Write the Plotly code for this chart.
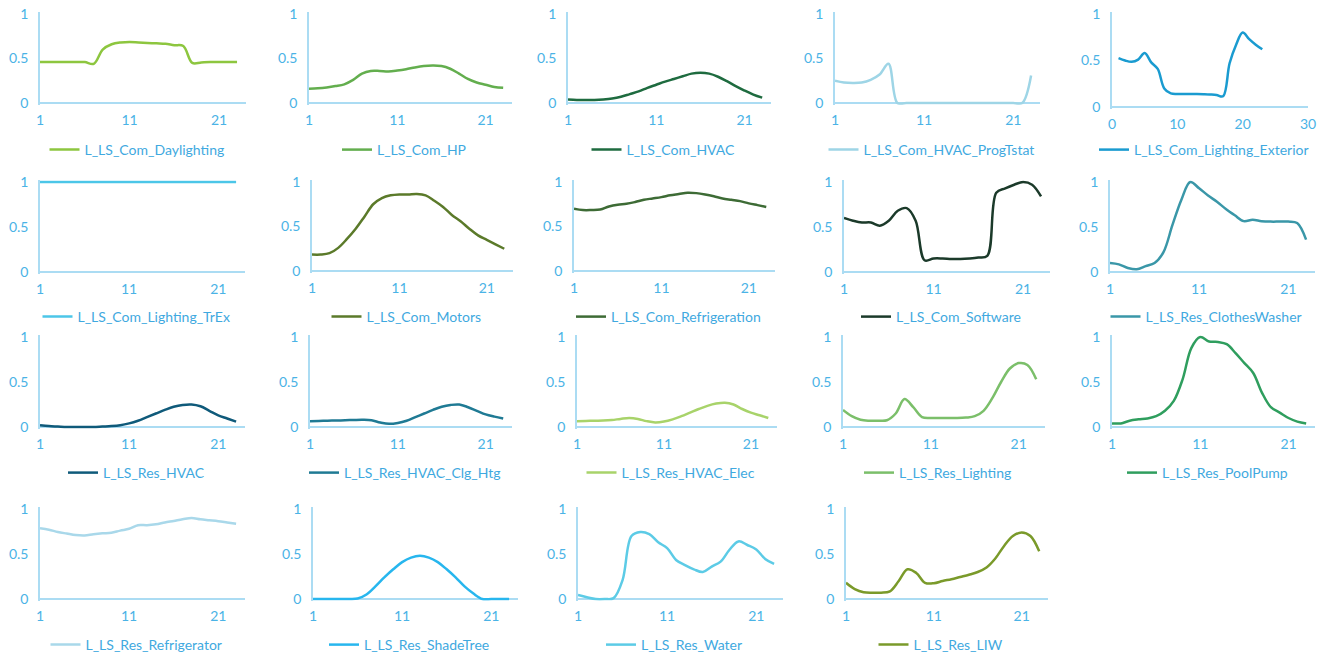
import plotly.graph_objects as go

# ---------------- data ----------------
hours = list(range(1, 24))
x_tick_vals = [1, 11, 21]
x_tick_vals_ext = [0, 10, 20, 30]
y_tick_vals = [0, 0.5, 1]
y_tick_text = ["0", "0.5", "1"]

series_names = [
    "L_LS_Com_Daylighting", "L_LS_Com_HP", "L_LS_Com_HVAC", "L_LS_Com_HVAC_ProgTstat",
    "L_LS_Com_Lighting_Exterior", "L_LS_Com_Lighting_TrEx", "L_LS_Com_Motors",
    "L_LS_Com_Refrigeration", "L_LS_Com_Software", "L_LS_Res_ClothesWasher",
    "L_LS_Res_HVAC", "L_LS_Res_HVAC_Clg_Htg", "L_LS_Res_HVAC_Elec", "L_LS_Res_Lighting",
    "L_LS_Res_PoolPump", "L_LS_Res_Refrigerator", "L_LS_Res_ShadeTree", "L_LS_Res_Water",
    "L_LS_Res_LIW",
]

com_daylighting = [0.46, 0.46, 0.46, 0.46, 0.46, 0.46, 0.44, 0.60, 0.66, 0.68, 0.685, 0.68,
                   0.675, 0.67, 0.665, 0.65, 0.64, 0.45, 0.455, 0.46, 0.46, 0.46, 0.46]
com_hp = [0.16, 0.165, 0.175, 0.19, 0.21, 0.26, 0.33, 0.36, 0.36, 0.355, 0.365, 0.38,
          0.40, 0.415, 0.42, 0.415, 0.385, 0.33, 0.27, 0.23, 0.205, 0.18, 0.17]
com_hvac = [0.04, 0.035, 0.035, 0.035, 0.04, 0.05, 0.07, 0.10, 0.13, 0.17, 0.205, 0.24,
            0.27, 0.30, 0.33, 0.34, 0.33, 0.295, 0.245, 0.19, 0.14, 0.095, 0.06]
com_hvac_progtstat = [0.25, 0.23, 0.225, 0.23, 0.26, 0.32, 0.44, 0.0, 0.0, 0.0, 0.0, 0.0,
                      0.0, 0.0, 0.0, 0.0, 0.0, 0.0, 0.0, 0.0, 0.0, 0.0, 0.31]
com_lighting_exterior = [0.525, 0.50, 0.486, 0.51, 0.58, 0.48, 0.41, 0.20, 0.146, 0.14, 0.14,
                         0.14, 0.14, 0.138, 0.135, 0.13, 0.115, 0.47, 0.67, 0.80, 0.73, 0.67, 0.62]
com_lighting_trex = [1.0] * 23
com_motors = [0.185, 0.185, 0.20, 0.26, 0.36, 0.475, 0.61, 0.75, 0.82, 0.85, 0.86, 0.86,
              0.865, 0.85, 0.79, 0.72, 0.63, 0.56, 0.475, 0.40, 0.35, 0.30, 0.25]
com_refrigeration = [0.70, 0.685, 0.685, 0.69, 0.725, 0.745, 0.755, 0.775, 0.80, 0.815, 0.83,
                     0.85, 0.865, 0.88, 0.875, 0.86, 0.84, 0.815, 0.80, 0.785, 0.76, 0.74, 0.72]
com_software = [0.60, 0.57, 0.55, 0.55, 0.515, 0.57, 0.68, 0.71, 0.57, 0.13, 0.15, 0.15,
                0.145, 0.145, 0.15, 0.16, 0.18, 0.88, 0.93, 0.97, 1.0, 0.97, 0.84]
res_clotheswasher = [0.10, 0.085, 0.045, 0.03, 0.065, 0.10, 0.22, 0.52, 0.80, 1.0, 0.93, 0.85,
                     0.78, 0.70, 0.63, 0.565, 0.58, 0.565, 0.56, 0.56, 0.56, 0.545, 0.36]
res_hvac = [0.02, 0.01, 0.005, 0.0, 0.0, 0.0, 0.0, 0.005, 0.01, 0.02, 0.04, 0.07,
            0.11, 0.15, 0.19, 0.225, 0.245, 0.25, 0.23, 0.18, 0.13, 0.095, 0.06]
res_hvac_clg_htg = [0.065, 0.067, 0.07, 0.072, 0.075, 0.078, 0.08, 0.075, 0.05, 0.035, 0.045, 0.07,
                    0.11, 0.15, 0.19, 0.225, 0.245, 0.25, 0.22, 0.18, 0.14, 0.115, 0.095]
res_hvac_elec = [0.065, 0.067, 0.07, 0.072, 0.078, 0.09, 0.10, 0.09, 0.065, 0.05, 0.06, 0.085,
                 0.12, 0.16, 0.20, 0.235, 0.26, 0.27, 0.25, 0.20, 0.16, 0.13, 0.10]
res_lighting = [0.19, 0.12, 0.08, 0.07, 0.07, 0.075, 0.15, 0.31, 0.22, 0.11, 0.10, 0.10,
                0.10, 0.10, 0.105, 0.12, 0.18, 0.32, 0.50, 0.65, 0.71, 0.69, 0.53]
res_poolpump = [0.04, 0.04, 0.07, 0.085, 0.095, 0.12, 0.18, 0.29, 0.53, 0.88, 1.0, 0.95,
                0.945, 0.92, 0.82, 0.71, 0.60, 0.38, 0.22, 0.16, 0.10, 0.06, 0.04]
res_refrigerator = [0.786, 0.77, 0.745, 0.727, 0.71, 0.705, 0.72, 0.73, 0.735, 0.76, 0.78, 0.82,
                    0.82, 0.83, 0.85, 0.867, 0.885, 0.90, 0.885, 0.875, 0.865, 0.85, 0.835]
res_shadetree = [0.0, 0.0, 0.0, 0.0, 0.0, 0.005, 0.05, 0.14, 0.24, 0.33, 0.41, 0.46,
                 0.48, 0.46, 0.41, 0.33, 0.24, 0.14, 0.06, 0.0, 0.0, 0.0, 0.0]
res_water = [0.045, 0.02, 0.0, 0.0, 0.01, 0.21, 0.70, 0.745, 0.72, 0.63, 0.566, 0.434,
             0.377, 0.33, 0.30, 0.36, 0.415, 0.547, 0.64, 0.60, 0.55, 0.445, 0.39]
res_liw = [0.18, 0.11, 0.075, 0.07, 0.07, 0.085, 0.20, 0.33, 0.29, 0.18, 0.175, 0.20,
           0.22, 0.245, 0.27, 0.30, 0.35, 0.45, 0.59, 0.70, 0.74, 0.70, 0.53]

series_values = [
    com_daylighting, com_hp, com_hvac, com_hvac_progtstat, com_lighting_exterior,
    com_lighting_trex, com_motors, com_refrigeration, com_software, res_clotheswasher,
    res_hvac, res_hvac_clg_htg, res_hvac_elec, res_lighting, res_poolpump,
    res_refrigerator, res_shadetree, res_water, res_liw,
]

# ---------------- styles / layout ----------------
line_colors = [
    "#8DC63F", "#63AE4E", "#1E6B3F", "#9ED5E6", "#1A9BD0",
    "#4CC6E8", "#5B7A2A", "#3D6B35", "#1B3A2A", "#3A97A8",
    "#0F5A7A", "#1F7A94", "#A8D36A", "#7BBF6A", "#2F9E5E",
    "#A9D8EA", "#27B6EE", "#5CCBE6", "#7A9A2A",
]

# window pixels: (axis start x, axis end x, y of value 1, y of value 0, legend centre y)
panels = [
    (40, 246, 14, 103, 150), (309, 512, 14, 103, 150), (568, 771, 14, 103, 150),
    (835, 1040, 14, 103, 150), (1112, 1308, 14, 107, 150),
    (40, 245, 182, 272, 317), (312, 513, 182, 271, 317), (574, 775, 182, 271, 317),
    (844, 1050, 182, 272, 317), (1110, 1315, 182, 272, 317),
    (40, 245, 337, 427, 473), (310, 512, 337, 427, 473), (577, 777, 337, 427, 473),
    (843, 1045, 337, 427, 473), (1112, 1315, 337, 427, 473),
    (40, 245, 509, 599, 645), (313, 518, 509, 599, 645), (578, 783, 509, 599, 645),
    (846, 1048, 509, 599, 645),
]

OFF = 8  # page body margin
W, H = 1329 - OFF, 655 - OFF
FONT = "Lato"
TICK_COLOR = "#4AB3E6"
AXIS_COLOR = "#ABDCF3"
PAD = 0.02

fig = go.Figure()
layout = {}
for i, (name, vals) in enumerate(zip(series_names, series_values)):
    n = i + 1
    sfx = "" if n == 1 else str(n)
    x0, x1, ytop, ybot, ly = panels[i]
    x0, x1, ytop, ybot, ly = x0 - OFF, x1 - OFF, ytop - OFF, ybot - OFF, ly - OFF
    span = ybot - ytop
    dom_top = ytop - PAD * span
    dom_bot = ybot + PAD * span
    ext = (i == 4)

    fig.add_trace(go.Scatter(
        x=hours, y=vals, mode="lines", name=name,
        line=dict(color=line_colors[i], width=2.5, shape="spline", smoothing=1),
        xaxis="x" + sfx, yaxis="y" + sfx, legend="legend" + sfx, showlegend=True,
        hoverinfo="skip",
    ))

    layout["xaxis" + sfx] = dict(
        domain=[x0 / W, x1 / W], anchor="y" + sfx,
        range=[0, 30] if ext else [1, 24],
        tickmode="array", tickvals=x_tick_vals_ext if ext else x_tick_vals,
        showline=False, showgrid=False, zeroline=False, ticks="", automargin=False,
        tickfont=dict(family=FONT, size=14, color=TICK_COLOR),
        ticklabelstandoff=5, ticklabeloverflow="allow", fixedrange=True,
    )
    layout["yaxis" + sfx] = dict(
        domain=[1 - dom_bot / H, 1 - dom_top / H], anchor="x" + sfx,
        range=[-PAD, 1 + PAD], automargin=False,
        tickmode="array", tickvals=y_tick_vals, ticktext=y_tick_text,
        showline=True, linecolor=AXIS_COLOR, linewidth=1.5,
        showgrid=False, zeroline=True, zerolinecolor=AXIS_COLOR, zerolinewidth=1.5,
        ticks="", tickfont=dict(family=FONT, size=14, color=TICK_COLOR),
        ticklabelstandoff=7, ticklabeloverflow="allow", fixedrange=True,
    )
    layout["legend" + sfx] = dict(
        x=((x0 + x1) / 2 - 6) / W, y=1 - ly / H, xanchor="center", yanchor="middle",
        orientation="h", bgcolor="rgba(0,0,0,0)", borderwidth=0,
        font=dict(family=FONT, size=14, color="#3FA9E0"),
    )

fig.update_layout(
    width=W, height=H,
    margin=dict(l=0, r=0, t=0, b=0, pad=0, autoexpand=False),
    paper_bgcolor="white", plot_bgcolor="white",
    showlegend=True,
    **layout,
)

fig.write_html("out.html")
